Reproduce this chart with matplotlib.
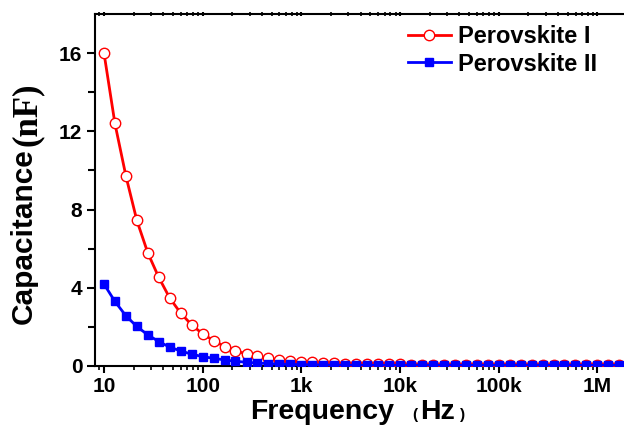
import matplotlib
matplotlib.use('Agg')
import matplotlib.pyplot as plt
from matplotlib.ticker import FixedLocator, FixedFormatter, LogLocator, NullFormatter

# ─── data ──────────────────────────────────────────────────────────────────
freq = [10, 12.9, 16.7, 21.5, 27.8, 35.9, 46.4, 59.9, 77.4,
        100, 129, 167, 215, 278, 359, 464, 599, 774,
        1000, 1290, 1670, 2150, 2780, 3590, 4640, 5990, 7740,
        1e4, 1.29e4, 1.67e4, 2.15e4, 2.78e4, 3.59e4, 4.64e4, 5.99e4, 7.74e4,
        1e5, 1.29e5, 1.67e5, 2.15e5, 2.78e5, 3.59e5, 4.64e5, 5.99e5, 7.74e5,
        1e6, 1.29e6, 1.67e6]

cap_perov1 = [16.0, 12.4, 9.7, 7.45, 5.78, 4.53, 3.47, 2.70, 2.10,
              1.64, 1.30, 0.99, 0.77, 0.62, 0.50, 0.39, 0.31, 0.26,
              0.22, 0.19, 0.16, 0.14, 0.12, 0.11, 0.10, 0.09, 0.085,
              0.08, 0.075, 0.07, 0.07, 0.065, 0.065, 0.06, 0.06, 0.06,
              0.055, 0.055, 0.055, 0.05, 0.05, 0.05, 0.05, 0.05, 0.05,
              0.05, 0.05, 0.05]

cap_perov2 = [4.19, 3.30, 2.56, 2.02, 1.59, 1.25, 0.96, 0.77, 0.60,
              0.48, 0.39, 0.31, 0.24, 0.19, 0.15, 0.12, 0.10, 0.08,
              0.07, 0.06, 0.05, 0.045, 0.04, 0.04, 0.035, 0.035, 0.035,
              0.03, 0.03, 0.03, 0.03, 0.03, 0.03, 0.03, 0.03, 0.03,
              0.03, 0.03, 0.03, 0.03, 0.03, 0.03, 0.03, 0.03, 0.03,
              0.03, 0.03, 0.03]

xticks = [10, 100, 1e3, 1e4, 1e5, 1e6]
xtick_labels = ['10', '100', '1k', '10k', '100k', '1M']
yticks = [0, 4, 8, 12, 16]

plt.rcParams.update({
    'font.family': ['Liberation Sans', 'DejaVu Sans'],
    'font.weight': 'bold',
})

fig = plt.figure(figsize=(6.24, 4.29), dpi=100)
ax = fig.add_axes([0.1522, 0.1469, 0.8478, 0.8205])

ax.plot(freq, cap_perov1, '-o', color='red', lw=2, ms=7.5, mfc='white',
        mec='red', mew=1, label='Perovskite I', zorder=3)
ax.plot(freq, cap_perov2, '-s', color='#0000ff', lw=2, ms=6.2,
        mfc='#0000ff', mec='#0000ff', label='Perovskite II', zorder=4)

ax.set_xscale('log')
ax.set_xlim(8.1, 1.86e6)
ax.set_ylim(0, 18)

ax.xaxis.set_major_locator(FixedLocator(xticks))
ax.xaxis.set_major_formatter(FixedFormatter(xtick_labels))
ax.xaxis.set_minor_locator(LogLocator(base=10, subs=range(2, 10), numticks=20))
ax.xaxis.set_minor_formatter(NullFormatter())
ax.yaxis.set_major_locator(FixedLocator(yticks))
ax.yaxis.set_minor_locator(FixedLocator([2, 6, 10, 14]))

for s in ['left', 'bottom', 'top']:
    ax.spines[s].set_linewidth(1.5)
ax.spines['right'].set_visible(False)

ax.tick_params(axis='both', which='major', labelsize=15, width=1.5)
ax.tick_params(axis='x', which='major', direction='out', length=5, pad=3,
               top=True, labeltop=False)
ax.tick_params(axis='x', which='minor', direction='out', length=3, width=1.2,
               top=True)
ax.tick_params(axis='y', which='major', direction='out', length=6, pad=3)
ax.tick_params(axis='y', which='minor', direction='out', length=5, width=1.5)
# top ticks are small marks crossing the spine
for t in ax.xaxis.get_major_ticks() + ax.xaxis.get_minor_ticks():
    t.tick2line.set_marker('|')
    t.tick2line.set_markersize(3)
for lbl in ax.get_xticklabels() + ax.get_yticklabels():
    lbl.set_fontweight('bold')

# axis titles built from pieces
fig.text(250 / 624, 1 - 419 / 429, 'Frequency', fontsize=20.5, fontweight='bold',
         ha='left', va='baseline')
fig.text(412 / 624, 1 - 419 / 429, '(', fontsize=11, fontweight='bold',
         ha='left', va='baseline')
fig.text(420 / 624, 1 - 419 / 429, 'Hz', fontsize=20.5, fontweight='bold',
         ha='left', va='baseline')
fig.text(460 / 624, 1 - 419 / 429, ')', fontsize=11, fontweight='bold',
         ha='left', va='baseline')

fig.text(24 / 624, 1 - 148 / 429, 'Capacitance', fontsize=21.5, fontweight='bold',
         rotation=90, ha='center', va='top')
fig.text(27 / 624, 1 - 146 / 429, '(nF)', fontsize=25, fontweight='bold',
         family='Liberation Serif', rotation=90, ha='center', va='bottom')

leg = ax.legend(loc='upper left', bbox_to_anchor=(408 / 624, 1 - 25 / 429),
                bbox_transform=fig.transFigure, frameon=False,
                prop={'size': 17, 'weight': 'bold'}, handlelength=1.8,
                handletextpad=0.3, labelspacing=0.2, borderpad=0,
                borderaxespad=0)

fig.savefig('out.png', dpi=100)
